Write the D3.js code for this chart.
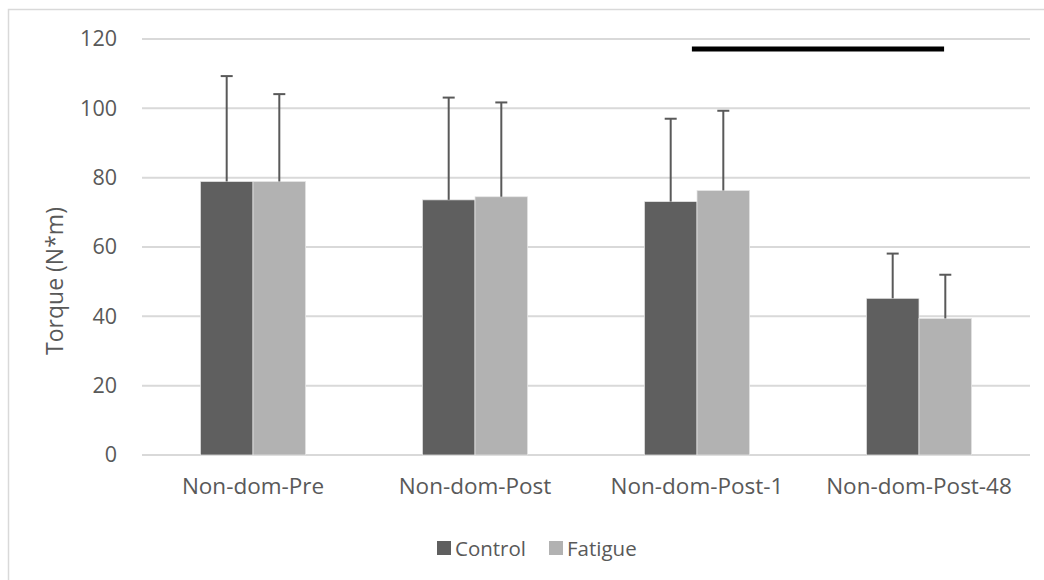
<!DOCTYPE html>
<html>
<head>
<meta charset="utf-8">
<script src="https://cdn.jsdelivr.net/npm/d3@7"></script>
<style>
  body { margin: 0; background: #fff; }
  text { font-family: "Open Sans", "Noto Sans", sans-serif; fill: #595959; }
</style>
</head>
<body>
<div id="chart"></div>
<script>
// categories and series
var categories = ["Non-dom-Pre", "Non-dom-Post", "Non-dom-Post-1", "Non-dom-Post-48"];
var seriesNames = ["Control", "Fatigue"];
var controlMean = [78.9, 73.6, 73.1, 45.2];
var controlSD   = [30.4, 29.5, 23.9, 12.9];
var fatigueMean = [78.9, 74.5, 76.3, 39.4];
var fatigueSD   = [25.2, 27.2, 23.0, 12.6];
var yTicks = [0, 20, 40, 60, 80, 100, 120];
// significance bar: from inside one category to inside another, at a y value
var sigBar = {from: "Non-dom-Post-1", fromPos: 0.477, to: "Non-dom-Post-48", toPos: 0.613, value: 117.1};

var W = 1044, H = 580;
var margin = {top: 39, right: 14, bottom: 125, left: 142};
var width = W - margin.left - margin.right;
var height = H - margin.top - margin.bottom;

var colors = {Control: "#5f5f5f", Fatigue: "#b2b2b2"};

var svg = d3.select("#chart").append("svg")
    .attr("width", W)
    .attr("height", H);

// chart border (runs off right/bottom)
svg.append("rect")
    .attr("x", 8.5).attr("y", 9.5)
    .attr("width", W + 20).attr("height", H + 20)
    .attr("fill", "none")
    .attr("stroke", "#d9d9d9")
    .attr("stroke-width", 1.5);

var g = svg.append("g")
    .attr("transform", "translate(" + margin.left + "," + margin.top + ")");

var x0 = d3.scaleBand()
    .domain(categories)
    .range([0, width])
    .paddingInner(0).paddingOuter(0);

var groupW = x0.bandwidth() * 0.474;
var x1 = d3.scaleBand()
    .domain(seriesNames)
    .range([(x0.bandwidth() - groupW) / 2, (x0.bandwidth() + groupW) / 2]);

var y = d3.scaleLinear()
    .domain([0, 120])
    .range([height, 0]);

// gridlines
g.selectAll(".grid")
    .data(yTicks)
    .enter().append("line")
    .attr("x1", 0).attr("x2", width)
    .attr("y1", function(d) { return y(d); })
    .attr("y2", function(d) { return y(d); })
    .attr("stroke", "#d9d9d9")
    .attr("stroke-width", 2);

// y tick labels
var yAxis = g.append("g")
    .call(d3.axisLeft(y).tickValues(yTicks).tickSize(0).tickPadding(25));
yAxis.select(".domain").remove();
yAxis.selectAll("text")
    .attr("fill", "#595959")
    .style("font-family", "'Open Sans', sans-serif")
    .style("font-size", "21.5px");

// x labels
var xAxis = g.append("g")
    .attr("transform", "translate(0," + height + ")")
    .call(d3.axisBottom(x0).tickSize(0).tickPadding(23));
xAxis.select(".domain").remove();
xAxis.selectAll("text")
    .attr("fill", "#595959")
    .style("font-family", "'Open Sans', sans-serif")
    .style("font-size", "22.5px");

// data rows
var rows = categories.map(function(c, i) {
  return {cat: c, vals: [
    {name: "Control", mean: controlMean[i], sd: controlSD[i]},
    {name: "Fatigue", mean: fatigueMean[i], sd: fatigueSD[i]}
  ]};
});

var groups = g.selectAll(".group")
    .data(rows)
    .enter().append("g")
    .attr("transform", function(d) { return "translate(" + x0(d.cat) + ",0)"; });

groups.selectAll("rect")
    .data(function(d) { return d.vals; })
    .enter().append("rect")
    .attr("x", function(d) { return x1(d.name); })
    .attr("y", function(d) { return y(d.mean); })
    .attr("width", x1.bandwidth())
    .attr("height", function(d) { return height - y(d.mean); })
    .attr("fill", function(d) { return colors[d.name]; })
    .attr("stroke", "#e6e6e6")
    .attr("stroke-width", 0.75);

// error bars (plus direction)
var eb = groups.selectAll(".err")
    .data(function(d) { return d.vals; })
    .enter().append("g");

eb.append("line")
    .attr("x1", function(d) { return x1(d.name) + x1.bandwidth() / 2; })
    .attr("x2", function(d) { return x1(d.name) + x1.bandwidth() / 2; })
    .attr("y1", function(d) { return y(d.mean); })
    .attr("y2", function(d) { return y(d.mean + d.sd); })
    .attr("stroke", "#595959")
    .attr("stroke-width", 2);

eb.append("line")
    .attr("x1", function(d) { return x1(d.name) + x1.bandwidth() / 2 - 6; })
    .attr("x2", function(d) { return x1(d.name) + x1.bandwidth() / 2 + 6; })
    .attr("y1", function(d) { return y(d.mean + d.sd); })
    .attr("y2", function(d) { return y(d.mean + d.sd); })
    .attr("stroke", "#595959")
    .attr("stroke-width", 2);

// significance bar
g.append("line")
    .attr("x1", x0(sigBar.from) + x0.bandwidth() * sigBar.fromPos)
    .attr("x2", x0(sigBar.to) + x0.bandwidth() * sigBar.toPos)
    .attr("y1", y(sigBar.value))
    .attr("y2", y(sigBar.value))
    .attr("stroke", "#000")
    .attr("stroke-width", 5);

// y axis title
svg.append("text")
    .attr("transform", "translate(55,281) rotate(-90)")
    .attr("text-anchor", "middle")
    .attr("dy", "0.35em")
    .style("font-size", "23px")
    .text("Torque (N*m)");

// legend
var legend = svg.append("g").attr("transform", "translate(437,541)");
var legX = [0, 112];
seriesNames.forEach(function(s, i) {
  legend.append("rect")
      .attr("x", legX[i]).attr("y", 0)
      .attr("width", 14).attr("height", 14)
      .attr("fill", colors[s]);
  legend.append("text")
      .attr("x", legX[i] + 18)
      .attr("y", 13)
      .attr("dy", "0.1em")
      .style("font-size", "20.5px")
      .text(s);
});
</script>
</body>
</html>
